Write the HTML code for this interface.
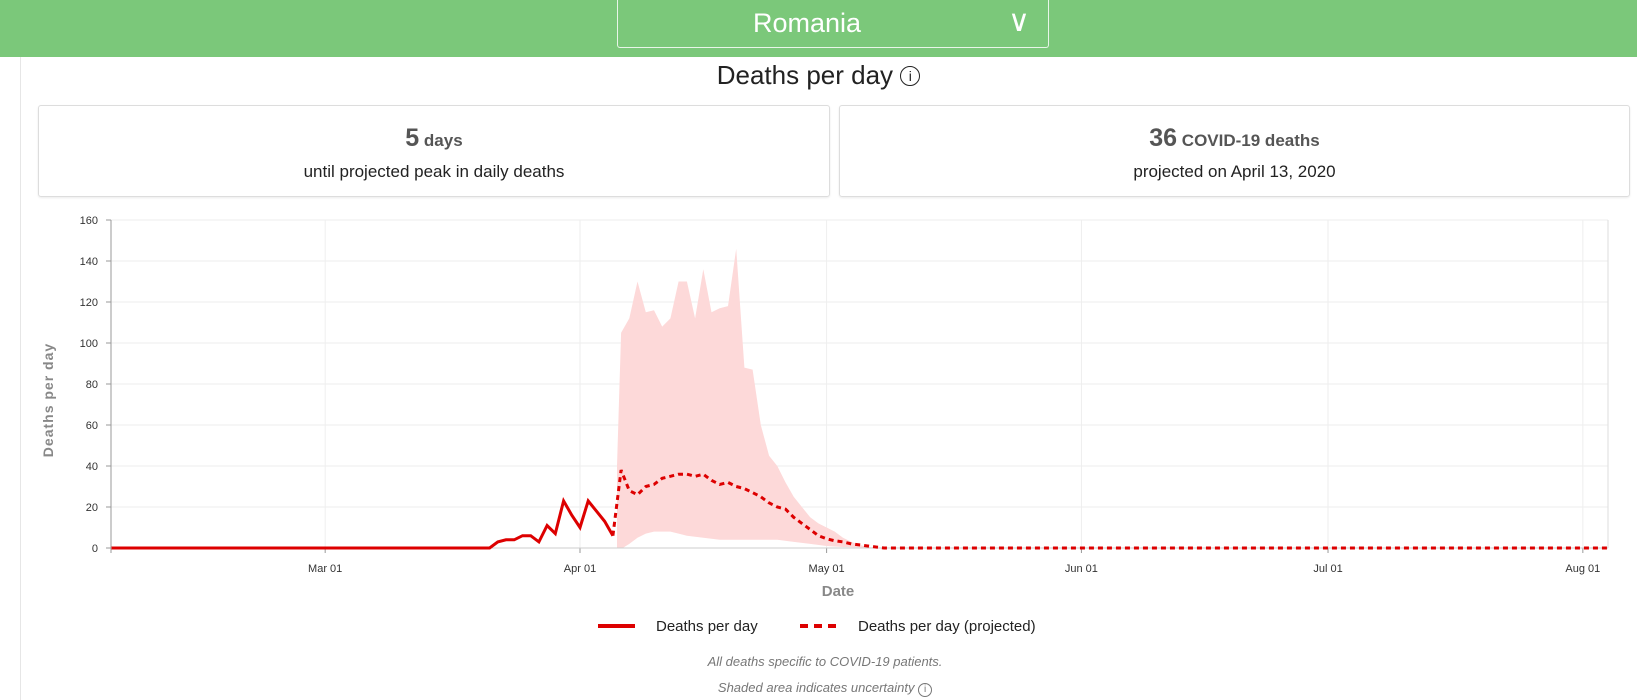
<!DOCTYPE html>
<html><head><meta charset="utf-8"><style>
body{margin:0;width:1637px;height:700px;background:#fff;font-family:"Liberation Sans",sans-serif;position:relative;overflow:hidden}
.bar{position:absolute;left:0;top:0;width:1637px;height:57px;background:#7bc87a}
.dd{position:absolute;left:617px;top:0;width:430px;height:47px;border:1px solid #e8f5e8;border-top:none;border-radius:0 0 3px 3px;color:#fff;font-size:27px;line-height:46px}
.edge{position:absolute;left:20px;top:57px;width:1px;height:643px;background:#e6e6e6}
.title{position:absolute;left:0;width:1637px;top:60px;text-align:center;font-size:26px;color:#222}
.card{position:absolute;top:105px;height:90px;border:1px solid #ddd;border-radius:3px;box-shadow:0 1px 2px rgba(0,0,0,.08);text-align:center;color:#222}
.card .a{margin-top:18px;font-size:17px;font-weight:bold;color:#555}
.card .a b{font-size:25px}
.card .b{margin-top:9px;font-size:17px}
.foot{position:absolute;left:0;width:1650px;text-align:center;font-style:italic;color:#777;font-size:13px}
</style></head><body>
<div class="bar"></div>
<div class="dd"><span style="position:absolute;left:135px">Romania</span><span style="position:absolute;right:18px;top:-1px;font-size:30px">&#x2228;</span></div>
<div class="edge"></div>
<div class="title">Deaths per day <span style="display:inline-block;width:18px;height:18px;border:1.5px solid #222;border-radius:50%;font-size:14px;line-height:18px;vertical-align:3px">i</span></div>
<div class="card" style="left:38px;width:790px"><div class="a"><b>5</b> days</div><div class="b">until projected peak in daily deaths</div></div>
<div class="card" style="left:839px;width:789px"><div class="a"><b>36</b> COVID-19 deaths</div><div class="b">projected on April 13, 2020</div></div>
<svg id="s" width="1637" height="700" style="position:absolute;left:0;top:0" font-family="Liberation Sans, sans-serif"></svg>
<div class="foot" style="top:654px">All deaths specific to COVID-19 patients.</div>
<div class="foot" style="top:680px">Shaded area indicates uncertainty <span style="display:inline-block;width:12px;height:12px;border:1px solid #777;border-radius:50%;font-size:10px;line-height:12px;font-style:normal">i</span></div>
<script>
var s=document.getElementById('s'),h='';
var X0=111,X1=1608,Y0=548,k=2.05;
function dx(d){return 580+d*8.22;}
function y(v){return Y0-v*k;}
for(var v=0;v<=160;v+=20){h+='<line x1="'+X0+'" x2="'+X1+'" y1="'+y(v)+'" y2="'+y(v)+'" stroke="#eee"/>';
h+='<line x1="'+(X0-5)+'" x2="'+X0+'" y1="'+y(v)+'" y2="'+y(v)+'" stroke="#999"/>';
h+='<text x="98" y="'+(y(v)+4)+'" font-size="11" fill="#333" text-anchor="end">'+v+'</text>';}
var ms=[['Mar 01',-31],['Apr 01',0],['May 01',30],['Jun 01',61],['Jul 01',91],['Aug 01',122]];
ms.forEach(function(m){var x=dx(m[1]);h+='<line x1="'+x+'" x2="'+x+'" y1="220" y2="'+Y0+'" stroke="#eee"/>';
h+='<line x1="'+x+'" x2="'+x+'" y1="'+Y0+'" y2="'+(Y0+5)+'" stroke="#999"/>';
h+='<text x="'+x+'" y="572" font-size="11" fill="#333" text-anchor="middle">'+m[0]+'</text>';});
h+='<line x1="'+X1+'" x2="'+X1+'" y1="220" y2="'+Y0+'" stroke="#ddd"/>';
var up=[[4.5,40],[5,105],[6,112],[7,130],[8,115],[9,116],[10,108],[11,112],[12,130],[13,130],[14,112],[15,136],[16,115],[17,117],[18,118],[19,146],[20,88],[21,87],[22,60],[23,45],[24,40],[25,32],[26,25],[27,20],[28,15],[29,12],[30,10],[31,8],[32,5],[33,3],[34,1.5],[35,0.5],[36,0]];
var lo=[[36,0],[34,0.3],[32,0.5],[30,1],[28,2],[26,3],[24,4],[20,4],[17,4],[15,5],[13,6],[12,7],[11,8],[9,8],[8,7],[7,5],[6,2],[5.2,0],[4.5,0]];
var p='M'+up.concat(lo).map(function(a){return dx(a[0]).toFixed(1)+','+y(a[1]).toFixed(1)}).join(' L')+'Z';
h+='<path d="'+p+'" fill="#fdd9d9"/>';
h+='<line x1="'+X0+'" x2="'+X0+'" y1="220" y2="'+(Y0+5)+'" stroke="#999"/><line x1="'+X0+'" x2="'+X1+'" y1="'+Y0+'" y2="'+Y0+'" stroke="#ccc"/>';
var act=[[-57,0],[-11,0],[-10,3],[-9,4],[-8,4],[-7,6],[-6,6],[-5,3],[-4,11],[-3,7],[-2,23],[-1,16],[0,10],[1,23],[2,18],[3,13],[4,6]];
h+='<polyline fill="none" stroke="#d00" stroke-width="3" points="'+act.map(function(a){return dx(a[0]).toFixed(1)+','+y(a[1]).toFixed(1)}).join(' ')+'"/>';
var pr=[[4,6],[5,38],[6,28],[7,26],[8,30],[9,31],[10,34],[11,35],[12,36],[13,36],[14,35],[15,36],[16,33],[17,31],[18,32],[19,30],[20,29],[21,27],[22,25],[23,22],[24,20],[25,19],[26,15],[27,12],[28,9],[29,6],[30,4.5],[31,3.5],[32,3],[33,2],[34,1.5],[35,1],[36,0.5],[37,0],[125,0]];
h+='<polyline fill="none" stroke="#d00" stroke-width="3" stroke-dasharray="5,4" points="'+pr.map(function(a){return dx(a[0]).toFixed(1)+','+y(a[1]).toFixed(1)}).join(' ')+'"/>';
h+='<text x="838" y="596" font-size="15" font-weight="bold" fill="#888" text-anchor="middle">Date</text>';
h+='<text transform="translate(53,400) rotate(-90)" font-size="14" font-weight="bold" fill="#888" text-anchor="middle" letter-spacing="1">Deaths per day</text>';
h+='<line x1="598" x2="635" y1="626" y2="626" stroke="#d00" stroke-width="4"/><text x="656" y="631" font-size="15" fill="#222">Deaths per day</text>';
h+='<line x1="800" x2="838" y1="626" y2="626" stroke="#d00" stroke-width="4" stroke-dasharray="8,6"/><text x="858" y="631" font-size="15" fill="#222">Deaths per day (projected)</text>';
s.innerHTML=h;
</script>
</body></html>
